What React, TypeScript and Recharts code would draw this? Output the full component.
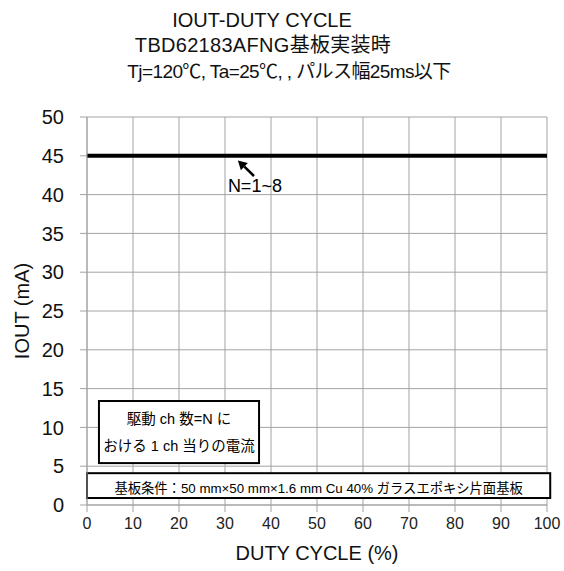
import {
  LineChart, Line, XAxis, YAxis, CartesianGrid, ReferenceArea, ReferenceLine, ReferenceDot,
} from "recharts";

const dutyCycle = [0, 10, 20, 30, 40, 50, 60, 70, 80, 90, 100];
const ioutN1to8 = [45, 45, 45, 45, 45, 45, 45, 45, 45, 45, 45];
const xTicks = [0, 10, 20, 30, 40, 50, 60, 70, 80, 90, 100];
const yTicks = [0, 5, 10, 15, 20, 25, 30, 35, 40, 45, 50];
const titleLines = [
  "IOUT-DUTY CYCLE",
  "TBD62183AFNG基板実装時",
  "Tj=120℃, Ta=25℃, , パルス幅25ms以下",
];
const noteLines = ["駆動 ch 数=N に", "おける 1 ch 当りの電流"];
const boardNote = "基板条件：50 mm×50 mm×1.6 mm Cu 40%  ガラスエポキシ片面基板";
const seriesLabel = "N=1~8";

const data = dutyCycle.map((d, i) => ({ duty: d, iout: ioutN1to8[i] }));

const font = '"Liberation Sans", Arial, "Noto Sans CJK JP", sans-serif';
const cjk = '"Liberation Sans", "Noto Sans CJK JP", sans-serif';
const gridColor = "#a3a3a3";

const titlePos = [
  { cx: 262, cy: 20, size: 20, spacing: 0 },
  { cx: 263, cy: 45, size: 20, spacing: 0.3 },
  { cx: 289, cy: 72, size: 19, spacing: -0.6 },
];

const NoteBox = (props: any) => {
  const { x, y, width, height } = props;
  const cx = x + width / 2;
  const cy = y + height / 2;
  return (
    <g>
      <rect x={x} y={y} width={width} height={height} fill="#fff" stroke="#000" strokeWidth={2} />
      {noteLines.map((t, i) => (
        <text key={i} x={cx} y={cy + (i - 0.5) * 27} textAnchor="middle" dominantBaseline="central"
          fontSize={14.5} fontFamily={cjk} fill="#000">{t}</text>
      ))}
    </g>
  );
};

const BoardBox = (props: any) => {
  const { x, y, width, height } = props;
  return (
    <g>
      <rect x={x} y={y} width={width} height={height} fill="#fff" stroke="#000" strokeWidth={2} />
      <text x={x + width / 2} y={y + height / 2 + 3} textAnchor="middle" dominantBaseline="central"
        fontSize={13.3} fontFamily={cjk} fill="#000">{boardNote}</text>
    </g>
  );
};

const Arrow = (props: any) => {
  const { x1, y1, x2, y2 } = props;
  // arrow tip at (x1, y1)
  const ang = Math.atan2(y1 - y2, x1 - x2);
  const len = 9, w = 5;
  const bx = x1 - len * Math.cos(ang);
  const by = y1 - len * Math.sin(ang);
  const px = -Math.sin(ang) * w;
  const py = Math.cos(ang) * w;
  return (
    <g>
      <line x1={x2} y1={y2} x2={bx} y2={by} stroke="#000" strokeWidth={2.5} />
      <polygon points={`${x1},${y1} ${bx + px},${by + py} ${bx - px},${by - py}`} fill="#000" />
    </g>
  );
};

export default function App() {
  return (
    <div style={{ position: "fixed", left: 0, top: 0, width: 564, height: 571, background: "#fff" }}>
      {titleLines.map((t, i) => (
        <div key={i} style={{
          position: "absolute", left: titlePos[i].cx - 250, width: 500, top: titlePos[i].cy - 12,
          height: 24, lineHeight: "24px", textAlign: "center", fontSize: titlePos[i].size,
          letterSpacing: titlePos[i].spacing, fontFamily: cjk, color: "#111", whiteSpace: "nowrap",
        }}>{t}</div>
      ))}
      <div style={{ position: "absolute", left: 0, top: 0 }}>
        <LineChart width={564} height={571} data={data} margin={{ top: 117, right: 17, bottom: 0, left: 0 }}>
          <CartesianGrid stroke={gridColor} strokeWidth={1} />
          <XAxis dataKey="duty" type="number" domain={[0, 100]} ticks={xTicks} height={66}
            stroke={gridColor} tickSize={7} tickMargin={6} interval={0}
            tick={{ fontSize: 16, fontFamily: font, fill: "#222" }}
            label={(p: any) => (
              <text x={p.viewBox.x + p.viewBox.width / 2} y={553} textAnchor="middle" dominantBaseline="central"
                fontSize={20} fontFamily={font} fill="#111">DUTY CYCLE (%)</text>
            )} />
          <YAxis type="number" domain={[0, 50]} ticks={yTicks} width={87} interval={0}
            stroke={gridColor} tickSize={7} tickMargin={16}
            tick={{ fontSize: 20, fontFamily: font, fill: "#111" }}
            label={(p: any) => {
              const cy = p.viewBox.y + p.viewBox.height / 2;
              return (
                <text x={22} y={cy} transform={`rotate(-90, 22, ${cy})`} textAnchor="middle"
                  dominantBaseline="central" fontSize={20} fontFamily={font} fill="#111">IOUT (mA)</text>
              );
            }} />
          <Line dataKey="iout" stroke="#000" strokeWidth={4} dot={false} isAnimationActive={false} />
          <ReferenceLine segment={[{ x: 32.8, y: 44.4 }, { x: 36.3, y: 42.4 }]} ifOverflow="visible"
            shape={(p: any) => <Arrow {...p} />} />
          <ReferenceDot x={36.5} y={41.2} r={0} ifOverflow="visible"
            label={{ value: seriesLabel, position: "center", fontSize: 18, fontFamily: font, fill: "#000" }} />
          <ReferenceArea x1={2.6} x2={37.4} y1={5.4} y2={13.4} ifOverflow="visible"
            shape={(p: any) => <NoteBox {...p} />} />
          <ReferenceArea x1={0} x2={100.7} y1={0.9} y2={4.1} ifOverflow="visible"
            shape={(p: any) => <BoardBox {...p} />} />
        </LineChart>
      </div>
    </div>
  );
}
